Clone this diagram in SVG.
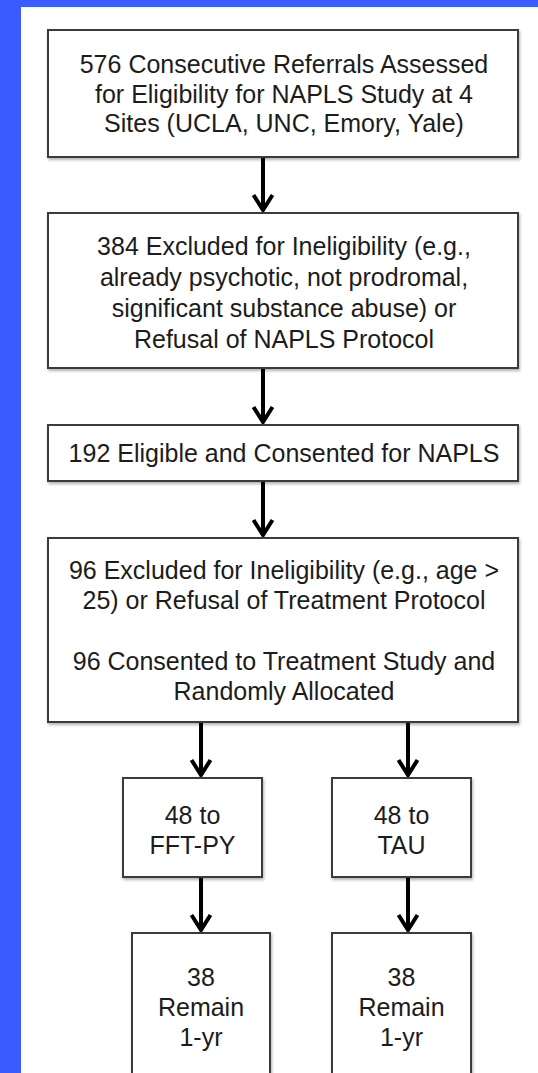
<svg xmlns="http://www.w3.org/2000/svg" width="538" height="1073" viewBox="0 0 538 1073">
  <defs>
    <style>
      .box { fill: #ffffff; stroke: #3a3a3a; stroke-width: 2; filter: url(#shadow); }
      .t { font-family: "Liberation Sans", Arial, sans-serif; font-size: 25px; fill: #1c1c1c; text-anchor: middle; }
      .shaft { stroke: #000000; stroke-width: 4; fill: none; }
      .head { stroke: #000000; stroke-width: 4; fill: none; stroke-linejoin: miter; stroke-linecap: butt; }
    </style>
    <filter id="shadow" x="-5%" y="-5%" width="115%" height="120%">
      <feDropShadow dx="1" dy="2" stdDeviation="1.5" flood-color="#000000" flood-opacity="0.3"/>
    </filter>
  </defs>

  <rect x="0" y="0" width="538" height="1073" fill="#3a5cfe"/>
  <rect x="21" y="7" width="517" height="1066" fill="#ffffff"/>

  <g id="connectors">
    <line class="shaft" x1="263" y1="157" x2="263" y2="210"/>
    <polyline class="head" points="253.5,195 263,210 272.5,195"/>
    <line class="shaft" x1="263" y1="368" x2="263" y2="422"/>
    <polyline class="head" points="253.5,407 263,422 272.5,407"/>
    <line class="shaft" x1="263" y1="481" x2="263" y2="535"/>
    <polyline class="head" points="253.5,520 263,535 272.5,520"/>
    <line class="shaft" x1="201" y1="722" x2="201" y2="775"/>
    <polyline class="head" points="191.5,760 201,775 210.5,760"/>
    <line class="shaft" x1="408" y1="722" x2="408" y2="775"/>
    <polyline class="head" points="398.5,760 408,775 417.5,760"/>
    <line class="shaft" x1="201" y1="877" x2="201" y2="930"/>
    <polyline class="head" points="191.5,915 201,930 210.5,915"/>
    <line class="shaft" x1="408" y1="877" x2="408" y2="930"/>
    <polyline class="head" points="398.5,915 408,930 417.5,915"/>
  </g>

  <g id="node-referrals">
    <rect class="box" x="48" y="30" width="470" height="127"/>
    <text class="t" x="284" y="73">576 Consecutive Referrals Assessed</text>
    <text class="t" x="284" y="103">for Eligibility for NAPLS Study at 4</text>
    <text class="t" x="284" y="132">Sites (UCLA, UNC, Emory, Yale)</text>
  </g>

  <g id="node-excluded-naps">
    <rect class="box" x="48" y="213" width="470" height="155"/>
    <text class="t" x="284" y="255">384 Excluded for Ineligibility (e.g.,</text>
    <text class="t" x="284" y="286">already psychotic, not prodromal,</text>
    <text class="t" x="284" y="317">significant substance abuse) or</text>
    <text class="t" x="284" y="348">Refusal of NAPLS Protocol</text>
  </g>

  <g id="node-eligible">
    <rect class="box" x="48" y="425" width="470" height="56"/>
    <text class="t" x="284" y="462">192 Eligible and Consented for NAPLS</text>
  </g>

  <g id="node-treatment">
    <rect class="box" x="48" y="538" width="470" height="184"/>
    <text class="t" x="284" y="579">96 Excluded for Ineligibility (e.g., age &gt;</text>
    <text class="t" x="284" y="609">25) or Refusal of Treatment Protocol</text>
    <text class="t" x="284" y="670">96 Consented to Treatment Study and</text>
    <text class="t" x="284" y="700">Randomly Allocated</text>
  </g>

  <g id="node-fft">
    <rect class="box" x="123" y="778" width="139" height="99"/>
    <text class="t" x="192.5" y="824">48 to</text>
    <text class="t" x="192.5" y="854">FFT-PY</text>
  </g>

  <g id="node-tau">
    <rect class="box" x="332" y="778" width="139" height="99"/>
    <text class="t" x="401.5" y="824">48 to</text>
    <text class="t" x="401.5" y="854">TAU</text>
  </g>

  <g id="node-fft-remain">
    <rect class="box" x="132" y="933" width="138" height="160"/>
    <text class="t" x="201" y="986">38</text>
    <text class="t" x="201" y="1016">Remain</text>
    <text class="t" x="201" y="1046">1-yr</text>
  </g>

  <g id="node-tau-remain">
    <rect class="box" x="332" y="933" width="139" height="160"/>
    <text class="t" x="401.5" y="986">38</text>
    <text class="t" x="401.5" y="1016">Remain</text>
    <text class="t" x="401.5" y="1046">1-yr</text>
  </g>
</svg>
